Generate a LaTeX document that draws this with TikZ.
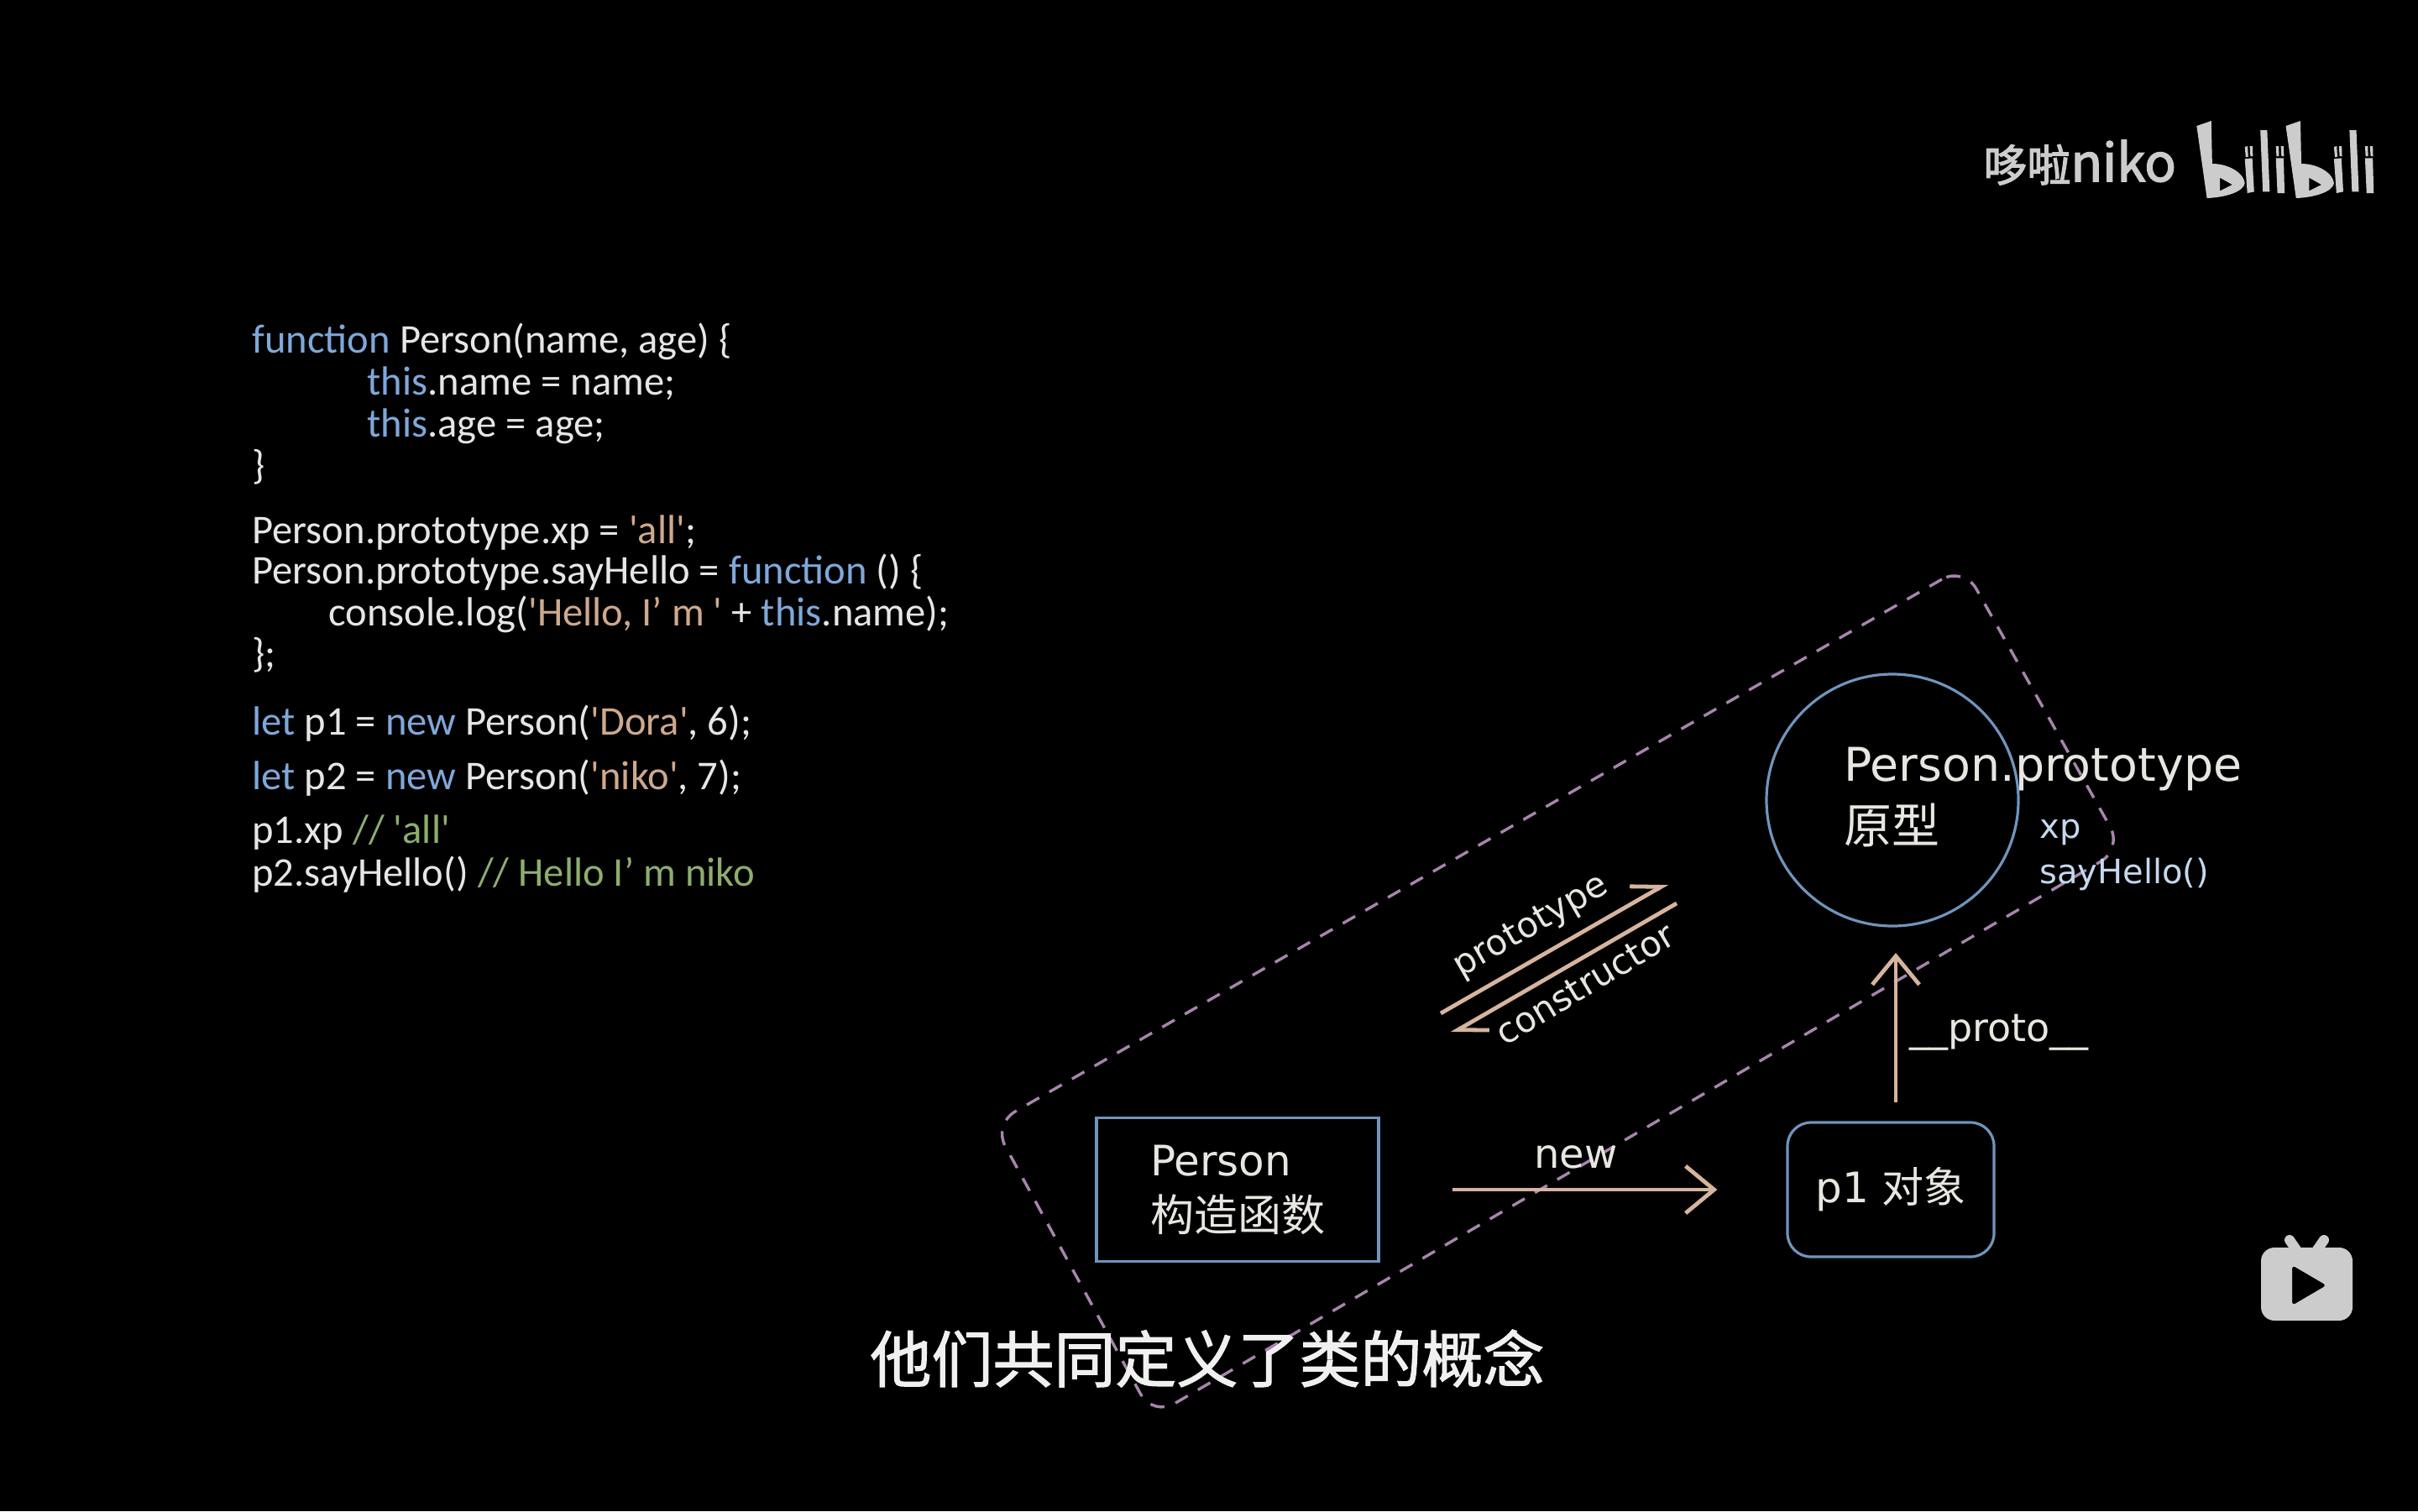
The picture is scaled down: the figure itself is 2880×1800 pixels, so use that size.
\documentclass[tikz,border=0pt]{standalone}
\usepackage{xcolor}
\usepackage{fontspec}
\usepackage{tikz}
\usetikzlibrary{arrows.meta}
\newfontfamily\cjk{Noto Sans CJK SC}
\newfontfamily\capfont[FakeBold=1.6]{Noto Sans CJK SC}
\newfontfamily\markfont[FakeBold=2.4]{Noto Sans CJK SC}
\newfontfamily\diagfont{DejaVu Sans}
\newfontfamily\codefont{Carlito}
\definecolor{kwblue}{HTML}{7FA8DA}
\definecolor{strtan}{HTML}{CFA98C}
\definecolor{cmtgreen}{HTML}{8DAE6E}
\definecolor{boxblue}{HTML}{6F95BC}
\definecolor{arrowtan}{HTML}{D6B49E}
\definecolor{dashpurple}{HTML}{A884AE}
\definecolor{codegray}{HTML}{E6E6E6}
\definecolor{diaggray}{HTML}{E8E6E0}
\definecolor{logogray}{HTML}{CCCCCC}
\newcommand{\kwd}[1]{\textcolor{kwblue}{#1}}
\newcommand{\strg}[1]{\textcolor{strtan}{#1}}
\newcommand{\cmnt}[1]{\textcolor{cmtgreen}{#1}}
\tikzset{
  code/.style={anchor=base west, inner sep=0pt, text=codegray, font=\codefont\fontsize{24.3}{26}\selectfont},
  diag/.style={inner sep=0pt, text=diaggray, font=\diagfont\fontsize{25}{33}\selectfont},
  flow/.style={draw=arrowtan, line width=2.4pt, -{Straight Barb[length=17pt,width=28pt,line width=2.4pt]}},
  harp/.style={draw=arrowtan, line width=2.4pt, -{Straight Barb[harpoon,length=16pt,width=19pt,line width=2.4pt]}},
}
\begin{document}
\begin{tikzpicture}[x=.5pt,y=-.5pt]
\useasboundingbox [fill=black] (0,0) rectangle (2880,1800);
% code on the left
\node [code] (l1) at (300,420) {\kwd{function} Person(name, age) \{};
\node [code] (l2) at (437,470) {\kwd{this}.name = name;};
\node [code] (l3) at (437,520) {\kwd{this}.age = age;};
\node [code] (l4) at (300,570) {\}};
\node [code] (l5) at (300,647) {Person.prototype.xp = \strg{'all'};};
\node [code] (l6) at (300,695) {Person.prototype.sayHello = \kwd{function} () \{};
\node [code] (l7) at (391,745) {console.log(\strg{'Hello, I’ m '} + \kwd{this}.name);};
\node [code] (l8) at (300,794) {\};};
\node [code] (l9) at (300,875) {\kwd{let} p1 = \kwd{new} Person(\strg{'Dora'}, 6);};
\node [code] (l10) at (300,940) {\kwd{let} p2 = \kwd{new} Person(\strg{'niko'}, 7);};
\node [code] (l11) at (300,1004) {p1.xp \cmnt{// 'all'}};
\node [code] (l12) at (300,1055) {p2.sayHello() \cmnt{// Hello I’ m niko}};
% dashed group
\draw [dashpurple, line width=1.7pt, dash pattern=on 8.5pt off 7pt, rounded corners=15pt]
  (2339,675) -- (1183,1339) -- (1373,1687) -- (2528,1011) -- cycle;
% boxes
\node [diag, draw=boxblue, line width=1.8pt, minimum width=168pt, minimum height=85.5pt, align=left] (person) at (1474,1417)
  {Person\\{\cjk\fontsize{26}{33}\selectfont 构造函数}};
\node [diag, draw=boxblue, line width=1.6pt, rounded corners=14pt, minimum width=123pt, minimum height=80pt] (p1) at (2252,1417)
  {p1 {\cjk 对象}};
\node [draw=boxblue, line width=1.6pt, circle, minimum size=150pt, inner sep=0pt] (proto) at (2254,953) {};
% labels
\node [diag, anchor=west, font=\diagfont\fontsize{27.7}{33}\selectfont] (protoname) at (2196,916) {Person.prototype};
\node [diag, anchor=west, font=\cjk\fontsize{28.5}{33}\selectfont] (protocn) at (2196,983) {原型};
\node [diag, anchor=west, text=kwblue!45!white, font=\diagfont\fontsize{20}{26}\selectfont] (xp) at (2429,991) {xp};
\node [diag, anchor=west, text=kwblue!45!white, font=\diagfont\fontsize{20}{26}\selectfont] (say) at (2429,1041) {sayHello()};
\node [diag, font=\diagfont\fontsize{24}{30}\selectfont] (newlab) at (1877,1378) {new};
\node [diag, anchor=west, font=\diagfont\fontsize{23}{30}\selectfont] (protolab) at (2274,1230) {\_\_proto\_\_};
\node [diag, rotate=30, font=\diagfont\fontsize{21}{30}\selectfont] (protolink) at (1824,1104) {prototype};
\node [diag, rotate=31, font=\diagfont\fontsize{21}{30}\selectfont] (conlink) at (1888,1172) {constructor};
% arrows
\draw [flow, shorten <=43pt, shorten >=41pt] (person) -- (p1);
\coordinate (protofoot) at (2258,1313);
\coordinate (protohead) at (2258,1135);
\draw [flow] (protofoot) -- (protohead);
\coordinate (ptstart) at (1716,1207);
\coordinate (ptend) at (1986,1052);
\coordinate (costart) at (1997,1076);
\coordinate (coend) at (1729,1231);
\draw [harp] (ptstart) -- (ptend);
\draw [harp] (costart) -- (coend);
% subtitle
\node [inner sep=0pt, text=white!94!black, font=\capfont\fontsize{36.5}{40}\selectfont] (caption) at (1438,1618) {他们共同定义了类的概念};
% watermark
\node [inner sep=0pt, anchor=base west, text=logogray, font=\markfont\fontsize{26}{30}\selectfont] (author) at (2362,216) {哆啦{\fontsize{31}{30}\selectfont niko}};
\begin{scope}[shift={(2300,100)}, x=.185pt, y=-.1667pt, fill=logogray]
\foreach \s in {0,287} {
  \begin{scope}[xshift=\s*.185pt]
  \fill [even odd rule] (855,150) -- (902,132) -- (905,285) .. controls (960,285) and (1008,320) .. (1010,355)
    .. controls (1005,385) and (950,405) .. (888,408) -- cycle
    (930,335) -- (970,360) -- (930,382) -- cycle;
  \fill (1010,225) -- (1019,222) -- (1021,260) -- (1013,262) -- cycle;
  \fill (1026,222) -- (1035,222) -- (1036,258) -- (1028,258) -- cycle;
  \fill (1010,268) -- (1034,265) -- (1040,385) -- (1018,390) -- cycle;
  \fill (1060,165) -- (1082,165) -- (1090,385) -- (1068,385) -- cycle;
  \fill (1110,222) -- (1119,222) -- (1120,258) -- (1112,258) -- cycle;
  \fill (1126,222) -- (1135,222) -- (1136,258) -- (1128,258) -- cycle;
  \fill (1110,265) -- (1135,265) -- (1138,390) -- (1115,390) -- cycle;
  \end{scope}
}
\end{scope}
% tv icon
\draw [logogray, line width=6pt, line cap=round] (2727,1477) -- (2736,1490);
\draw [logogray, line width=6pt, line cap=round] (2768,1477) -- (2759,1490);
\fill [logogray, even odd rule, rounded corners=8pt] (2693,1486) rectangle (2802,1573)
  [rounded corners=2pt] (2730,1507) -- (2771,1531) -- (2730,1555) -- cycle;
\end{tikzpicture}
\end{document}
